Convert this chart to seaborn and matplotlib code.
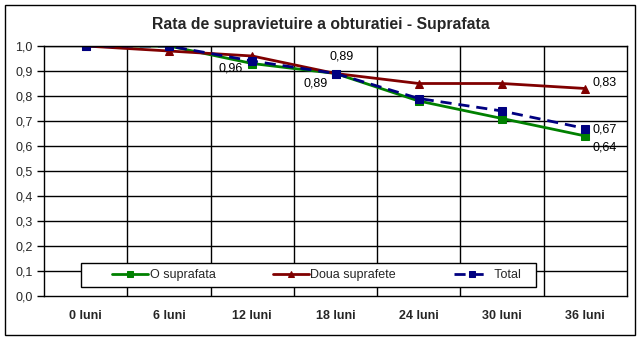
import matplotlib
matplotlib.use("Agg")
import matplotlib.pyplot as plt
import seaborn as sns
import pandas as pd
from matplotlib.patches import Rectangle

categories = ["0 luni", "6 luni", "12 luni", "18 luni", "24 luni", "30 luni", "36 luni"]
o_suprafata = [1.0, 1.0, 0.93, 0.89, 0.78, 0.71, 0.64]
doua_suprafete = [1.0, 0.98, 0.96, 0.89, 0.85, 0.85, 0.83]
total = [1.0, 1.0, 0.94, 0.89, 0.79, 0.74, 0.67]
yticks = [i / 10 for i in range(11)]
ytick_labels = [f"{v:.1f}".replace(".", ",") for v in yticks]

sns.set_theme(style="white")
plt.rcParams['font.family'] = ['Liberation Sans', 'DejaVu Sans']

W, H = 644, 341
fig = plt.figure(figsize=(W / 100, H / 100), dpi=100)
ax = fig.add_axes([44 / W, 1 - 296 / H, (627 - 44) / W, 250 / H])

x = list(range(len(categories)))
series = [
    ("O suprafata", o_suprafata, "#008000", "s", "-"),
    ("Doua suprafete", doua_suprafete, "#800000", "^", "-"),
    ("Total", total, "#000080", "s", (0, (4, 2.5))),
]
for name, vals, col, mk, ls in series:
    df = pd.DataFrame({"x": x, "y": vals})
    sns.lineplot(data=df, x="x", y="y", ax=ax, color=col, marker=mk, markersize=6,
                 markeredgecolor=col, linewidth=2, linestyle=ls, label=name)

ax.set_xlim(-0.5, len(categories) - 0.5)
ax.set_ylim(0, 1.0)
ax.set_yticks(yticks)
ax.set_yticklabels(ytick_labels, fontsize=9)
ax.set_xticks(x)
ax.set_xticklabels(categories, fontsize=9, fontweight="bold")
ax.set_xticks([i + 0.5 for i in range(-1, len(categories))], minor=True)
ax.tick_params(axis="x", which="major", length=0, pad=10)
ax.tick_params(axis="x", which="minor", length=5, width=1, color="black", direction="out")
ax.tick_params(axis="y", length=5, width=1, color="black", direction="out", left=True, pad=3)
ax.set_xlabel("")
ax.set_ylabel("")
for yv in yticks[1:]:
    ax.axhline(yv, color="black", linewidth=1, zorder=0.5)
for xv in [i + 0.5 for i in range(len(categories) - 1)]:
    ax.axvline(xv, color="black", linewidth=1, zorder=0.5)
for s in ax.spines.values():
    s.set_color("black")
    s.set_linewidth(1)

ann = dict(fontsize=9, color="black")
ax.annotate("0,96", (2, doua_suprafete[2]), xytext=(-24, -11.5), textcoords="offset points", **ann)
ax.annotate("0,89", (3, doua_suprafete[3]), xytext=(-4, 10), textcoords="offset points", **ann)
ax.annotate("0,89", (3, o_suprafata[3]), xytext=(-23, -9), textcoords="offset points", **ann)
ax.annotate("0,83", (6, doua_suprafete[6]), xytext=(5, 2), textcoords="offset points", **ann)
ax.annotate("0,67", (6, total[6]), xytext=(5, -3), textcoords="offset points", **ann)
ax.annotate("0,64", (6, o_suprafata[6]), xytext=(5, -10.5), textcoords="offset points", **ann)

# legend frame drawn separately, entries placed without frame
ax.add_patch(Rectangle(((81 - 44) / 583, (296 - 287) / 250), (536 - 81) / 583, 24 / 250,
                       transform=ax.transAxes, facecolor="white", edgecolor="black",
                       linewidth=1, zorder=4))
handles, labels = ax.get_legend_handles_labels()
labels = [l if l != "Total" else " Total" for l in labels]
leg = ax.legend(handles, labels, loc="center left",
                bbox_to_anchor=((112 - 44) / 583, (296 - 275) / 250),
                ncol=3, fontsize=9, frameon=False, markerscale=0.8,
                handlelength=2.9, handletextpad=0.1, columnspacing=4.6,
                borderaxespad=0, borderpad=0)
leg.set_zorder(5)

fig.text(321 / W, 1 - 25 / H, "Rata de supravietuire a obturatiei - Suprafata",
         ha="center", va="center", fontsize=11.3, fontweight="bold")
fig.patches.append(Rectangle((5 / W, 6 / H), 630 / W, 330 / H, transform=fig.transFigure,
                             fill=False, edgecolor="black", linewidth=1))

fig.savefig("out.png", dpi=100, facecolor="white")
